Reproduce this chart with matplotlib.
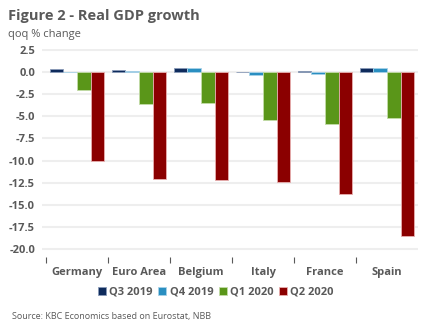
import matplotlib
matplotlib.use('Agg')
import matplotlib.pyplot as plt
import numpy as np

plt.rcParams['font.family'] = ['Open Sans', 'DejaVu Sans']

countries = ['Germany', 'Euro Area', 'Belgium', 'Italy', 'France', 'Spain']
series = ['Q3 2019', 'Q4 2019', 'Q1 2020', 'Q2 2020']
q3_2019 = [0.3, 0.2, 0.4, 0.0, 0.1, 0.4]
q4_2019 = [-0.05, 0.1, 0.5, -0.3, -0.2, 0.4]
q1_2020 = [-2.0, -3.6, -3.5, -5.4, -5.9, -5.2]
q2_2020 = [-10.1, -12.1, -12.2, -12.4, -13.8, -18.5]
colors = ['#0e2b5c', '#2a8fc1', '#5a9619', '#8b0000']
edges = ['#8a9bb8', '#a8d2e8', '#c3dca8', '#e8b0b0']

fig = plt.figure(figsize=(4.32, 3.34), dpi=100)
ax = fig.add_axes([42 / 432, 77 / 334, 376 / 432, 208 / 334])

x = np.arange(len(countries))
w = 0.22
for i, vals in enumerate([q3_2019, q4_2019, q1_2020, q2_2020]):
    ax.bar(x + (i - 1.5) * w, vals, w, color=colors[i], edgecolor=edges[i],
           linewidth=0.6, label=series[i], zorder=3)

ax.set_xlim(-0.565, 5.5)
ax.set_ylim(-20.9, 2.6)
yt = np.arange(-20, 2.6, 2.5)
ax.set_yticks(yt)
ax.set_yticklabels(['%.1f' % v for v in yt], fontsize=8, fontweight='bold', color='#595959')
ax.grid(axis='y', color='#eeeeee', linewidth=1.5, zorder=0)
ax.tick_params(axis='y', length=0, pad=5)

ax.set_xticks(x)
ax.set_xticklabels(countries, fontsize=8, fontweight='bold', color='#595959')
ax.set_xticks(np.arange(-0.5, 5, 1), minor=True)
ax.tick_params(axis='x', which='major', length=0, pad=7)
ax.tick_params(axis='x', which='minor', length=4, color='#595959', width=0.8)
for s in ax.spines.values():
    s.set_visible(False)

fig.legend(loc='center', bbox_to_anchor=(0.5, (334 - 292) / 334),
           ncol=4, frameon=False, handlelength=0.7, handleheight=0.7,
           handletextpad=0.3, columnspacing=0.5,
           prop={'size': 8, 'weight': 'bold'}, labelcolor='#595959')

fig.text(8 / 432, 1 - 16 / 334, 'Figure 2 - Real GDP growth', fontsize=10.5,
         fontweight='bold', color='#595959', va='center')
fig.text(8 / 432, 1 - 35 / 334, 'qoq % change', fontsize=8, color='#595959', va='center')
fig.text(12 / 432, 1 - 317 / 334, 'Source: KBC Economics based on Eurostat, NBB',
         fontsize=6.5, color='#595959', va='center')

fig.savefig('out.png', dpi=100)
